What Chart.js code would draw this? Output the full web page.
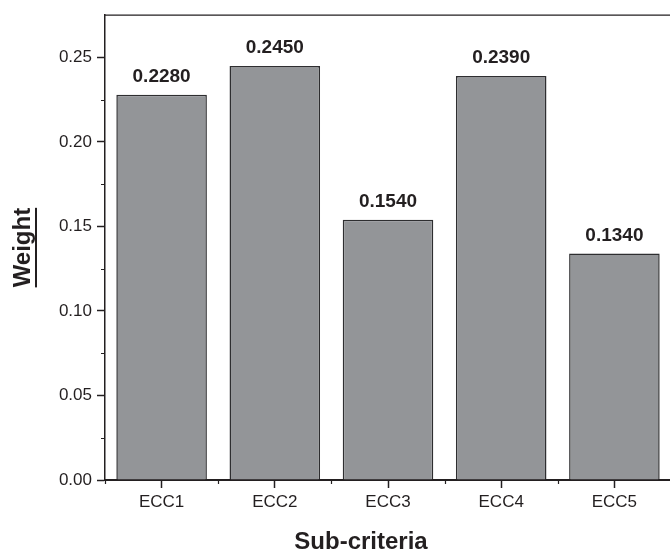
<!DOCTYPE html>
<html>
<head>
<meta charset="utf-8">
<script src="https://cdn.jsdelivr.net/npm/chart.js@4/dist/chart.umd.min.js"></script>
<style>
    html, body { margin: 0; padding: 0; background: #fff; overflow: hidden; }
    #wrap { width: 670px; height: 553px; overflow: hidden; }
    #box { width: 671px; height: 553px; }
</style>
</head>
<body>
<div id="wrap"><div id="box"><canvas id="chart"></canvas></div></div>
<script>
const categories = ['ECC1', 'ECC2', 'ECC3', 'ECC4', 'ECC5'];
const weights = [0.2280, 0.2450, 0.1540, 0.2390, 0.1340];
const yTicks = [0, 0.05, 0.10, 0.15, 0.20, 0.25];
const yMinorTicks = [0.025, 0.075, 0.125, 0.175, 0.225];
const yMax = 0.275;

const inkColor = '#231f20';
const fontFamily = '"Liberation Sans", Arial, sans-serif';

// frame, minor ticks, bar labels and axis titles
const decorPlugin = {
    id: 'decor',
    afterDraw: function (chart) {
        const ctx = chart.ctx;
        const area = chart.chartArea;
        const xScale = chart.scales.x;
        const yScale = chart.scales.y;
        ctx.save();
        ctx.strokeStyle = inkColor;

        // top and right frame
        ctx.lineWidth = 1.2;
        ctx.beginPath();
        ctx.moveTo(area.left, area.top);
        ctx.lineTo(area.right, area.top);
        ctx.lineTo(area.right, area.bottom);
        ctx.stroke();

        // minor ticks
        ctx.beginPath();
        yMinorTicks.forEach(function (v) {
            const y = Math.round(yScale.getPixelForValue(v)) + 0.5;
            ctx.moveTo(area.left - 4, y);
            ctx.lineTo(area.left, y);
        });
        const half = (xScale.getPixelForValue(1) - xScale.getPixelForValue(0)) / 2;
        for (let i = 0; i <= categories.length; i++) {
            const x = Math.round(xScale.getPixelForValue(i) - half) + 0.5;
            ctx.moveTo(x, area.bottom);
            ctx.lineTo(x, area.bottom + 4);
        }
        ctx.stroke();

        // value labels
        ctx.fillStyle = inkColor;
        ctx.font = 'bold 19px ' + fontFamily;
        ctx.textAlign = 'center';
        ctx.textBaseline = 'alphabetic';
        chart.getDatasetMeta(0).data.forEach(function (bar, i) {
            ctx.fillText(weights[i].toFixed(4), bar.x, bar.y - 13);
        });

        // axis titles
        ctx.font = 'bold 24px ' + fontFamily;
        ctx.fillText('Sub-criteria', 361, 549);

        ctx.translate(30, (area.top + area.bottom) / 2);
        ctx.rotate(-Math.PI / 2);
        const w = ctx.measureText('Weight').width;
        ctx.fillText('Weight', 0, 0);
        ctx.fillRect(-w / 2, 5, w, 2);
        ctx.restore();
    }
};

const ctx = document.getElementById('chart');
new Chart(ctx, {
    type: 'bar',
    data: {
        labels: categories,
        datasets: [{
            data: weights,
            backgroundColor: '#939598',
            borderColor: '#2e2e30',
            borderWidth: 1.5,
            barPercentage: 0.8,
            categoryPercentage: 1.0
        }]
    },
    options: {
        responsive: true,
        maintainAspectRatio: false,
        animation: false,
        layout: {
            padding: { top: 9, left: 0, right: 0, bottom: 0 }
        },
        plugins: {
            legend: { display: false },
            tooltip: { enabled: false },
            title: { display: false }
        },
        scales: {
            x: {
                offset: true,
                grid: {
                    offset: false,
                    drawOnChartArea: false,
                    drawTicks: true,
                    tickLength: 8,
                    tickWidth: 1.5,
                    tickColor: inkColor
                },
                border: { color: inkColor, width: 2 },
                ticks: {
                    color: inkColor,
                    padding: 4,
                    font: { family: fontFamily, size: 17 }
                },
                afterFit: function (scale) {
                    scale.height = 73;
                }
            },
            y: {
                min: 0,
                max: yMax,
                grid: {
                    drawOnChartArea: false,
                    drawTicks: true,
                    tickLength: 8,
                    tickWidth: 1.5,
                    tickColor: inkColor
                },
                border: { color: inkColor, width: 1.5 },
                ticks: {
                    color: inkColor,
                    padding: 5,
                    font: { family: fontFamily, size: 17 },
                    callback: function (value) {
                        return value.toFixed(2);
                    }
                },
                afterBuildTicks: function (scale) {
                    scale.ticks = yTicks.map(function (v) { return { value: v }; });
                },
                afterFit: function (scale) {
                    scale.width = 105;
                }
            }
        }
    },
    plugins: [decorPlugin]
});
</script>
</body>
</html>
